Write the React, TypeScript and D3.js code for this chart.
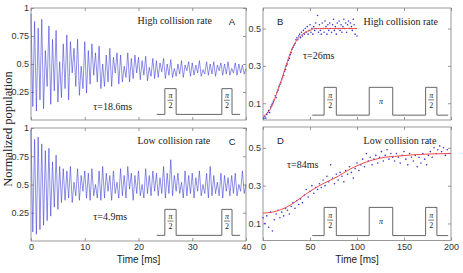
import React from "react"
import * as d3 from "d3"

const W = 463
const H = 273

// Ramsey traces, one sample every 1/3 ms from 0 to 40 ms
const ramseyTime = d3.range(121).map((i) => i / 3)
const highRamsey = [
  0.95, 0.12, 0.88, 0.08, 0.82, 0.18, 0.9, 0.1, 0.62, 0.3,
  0.84, 0.14, 0.72, 0.26, 0.8, 0.16, 0.52, 0.2, 0.68, 0.28,
  0.76, 0.18, 0.7, 0.42, 0.64, 0.3, 0.72, 0.22, 0.48, 0.28,
  0.7, 0.24, 0.62, 0.32, 0.68, 0.4, 0.6, 0.34, 0.66, 0.28,
  0.5, 0.3, 0.58, 0.34, 0.64, 0.3, 0.56, 0.42, 0.6, 0.32,
  0.58, 0.34, 0.48, 0.38, 0.6, 0.34, 0.55, 0.37, 0.58, 0.42,
  0.56, 0.36, 0.53, 0.4, 0.57, 0.35, 0.47, 0.39, 0.55, 0.37,
  0.53, 0.38, 0.51, 0.43, 0.55, 0.37, 0.5, 0.4, 0.54, 0.38,
  0.46, 0.39, 0.5, 0.41, 0.53, 0.38, 0.49, 0.44, 0.52, 0.39,
  0.51, 0.4, 0.49, 0.42, 0.53, 0.39, 0.45, 0.41, 0.52, 0.4,
  0.5, 0.41, 0.52, 0.39, 0.49, 0.44, 0.51, 0.4, 0.5, 0.41,
  0.52, 0.4, 0.46, 0.42, 0.51, 0.4, 0.5, 0.42, 0.49, 0.41, 0.46,
]
const lowRamsey = [
  0.98, 0.08, 0.9, 0.06, 0.92, 0.1, 0.86, 0.14, 0.8, 0.18,
  0.82, 0.22, 0.7, 0.3, 0.76, 0.28, 0.66, 0.34, 0.64, 0.36,
  0.62, 0.38, 0.66, 0.34, 0.52, 0.4, 0.64, 0.36, 0.58, 0.44,
  0.62, 0.38, 0.6, 0.36, 0.64, 0.4, 0.5, 0.38, 0.62, 0.36,
  0.66, 0.38, 0.6, 0.44, 0.58, 0.36, 0.62, 0.42, 0.52, 0.38,
  0.64, 0.4, 0.58, 0.38, 0.66, 0.46, 0.6, 0.36, 0.58, 0.42,
  0.62, 0.4, 0.5, 0.38, 0.64, 0.42, 0.58, 0.4, 0.62, 0.44,
  0.6, 0.4, 0.56, 0.42, 0.66, 0.38, 0.6, 0.42, 0.72, 0.4,
  0.58, 0.44, 0.6, 0.42, 0.52, 0.38, 0.62, 0.4, 0.58, 0.42,
  0.6, 0.38, 0.56, 0.44, 0.62, 0.4, 0.5, 0.42, 0.6, 0.38,
  0.66, 0.4, 0.58, 0.42, 0.52, 0.4, 0.6, 0.38, 0.58, 0.44,
  0.56, 0.4, 0.58, 0.42, 0.6, 0.4, 0.5, 0.44, 0.62, 0.42, 0.5,
]

// echo measurements (dots) and fits
const echoHighTime = d3.range(1, 101)
const echoHigh = [
  0.02, 0.03, 0.02, 0.04, 0.05, 0.06, 0.05, 0.08, 0.09, 0.1,
  0.11, 0.12, 0.14, 0.13, 0.16, 0.17, 0.19, 0.2, 0.21, 0.23,
  0.24, 0.25, 0.27, 0.28, 0.3, 0.31, 0.33, 0.34, 0.36, 0.37,
  0.39, 0.4, 0.41, 0.42, 0.44, 0.45, 0.44, 0.46, 0.47, 0.45,
  0.48, 0.46, 0.49, 0.47, 0.5, 0.48, 0.51, 0.47, 0.49, 0.52,
  0.48, 0.5, 0.47, 0.51, 0.49, 0.53, 0.5, 0.57, 0.48, 0.52,
  0.49, 0.47, 0.53, 0.5, 0.48, 0.54, 0.51, 0.47, 0.52, 0.49,
  0.53, 0.5, 0.48, 0.52, 0.55, 0.49, 0.51, 0.47, 0.53, 0.5,
  0.54, 0.49, 0.52, 0.48, 0.51, 0.55, 0.5, 0.53, 0.48, 0.52,
  0.54, 0.5, 0.53, 0.51, 0.49, 0.55, 0.52, 0.47, 0.5, 0.46,
]
const fitHighTime = [0, 5, 10, 15, 20, 25, 30, 35, 40, 45, 50, 55, 60, 70, 80, 90, 100]
const fitHigh = [0.03, 0.05, 0.09, 0.16, 0.23, 0.31, 0.38, 0.43, 0.46, 0.48, 0.49, 0.5, 0.5, 0.5, 0.5, 0.5, 0.5]

const echoLowTime = d3.range(0, 200, 2)
const echoLow = [
  0.13, 0.1, 0.14, 0.08, 0.16, 0.06, 0.12, 0.15, 0.17, 0.13,
  0.16, 0.14, 0.18, 0.17, 0.15, 0.19, 0.21, 0.18, 0.22, 0.2,
  0.23, 0.21, 0.25, 0.28, 0.24, 0.27, 0.3, 0.26, 0.29, 0.28,
  0.31, 0.29, 0.33, 0.3, 0.35, 0.32, 0.41, 0.34, 0.31, 0.36,
  0.33, 0.37, 0.35, 0.32, 0.38, 0.36, 0.4, 0.37, 0.34, 0.39,
  0.42, 0.38, 0.41, 0.44, 0.4, 0.47, 0.43, 0.45, 0.41, 0.44,
  0.46, 0.42, 0.45, 0.48, 0.43, 0.46, 0.49, 0.44, 0.47, 0.45,
  0.43, 0.47, 0.45, 0.42, 0.46, 0.48, 0.44, 0.41, 0.47, 0.45,
  0.43, 0.46, 0.4, 0.45, 0.42, 0.47, 0.44, 0.41, 0.46, 0.48,
  0.45, 0.5, 0.47, 0.49, 0.51, 0.48, 0.5, 0.46, 0.49, 0.47,
]
const fitLowTime = [0, 10, 20, 30, 40, 50, 60, 70, 80, 90, 100, 110, 120, 130, 140, 160, 180, 200]
const fitLow = [0.155, 0.16, 0.175, 0.2, 0.235, 0.27, 0.3, 0.325, 0.35, 0.38, 0.405, 0.425, 0.44, 0.45, 0.455, 0.463, 0.468, 0.47]

// axes
const ramseyXTicks = [0, 10, 20, 30, 40]
const ramseyYTicks = [0.25, 0.5, 0.75, 1]
const echoXTicks = [0, 50, 100, 150, 200]
const echoYTicks = [0.1, 0.3, 0.5]

// pulse sequences sketched in each panel (ms)
const ramseyPulses = [
  { from: 24.9, to: 27, label: "π/2" },
  { from: 35.5, to: 37.4, label: "π/2" },
]
const echoPulses = [
  { from: 65, to: 78, label: "π/2" },
  { from: 113, to: 138, label: "π" },
  { from: 173, to: 185, label: "π/2" },
]

const serif = "'Liberation Serif', 'Times New Roman', serif"
const sans = "'Liberation Sans', Arial, sans-serif"
const gray = "#808080"
const blue = "#3434d4"
const red = "#ee4a4a"
const ink = "#222"

type Lin = d3.ScaleLinear<number, number>
type G = d3.Selection<SVGGElement, unknown, null, undefined>

function drawFrame(g: G, x: Lin, y: Lin, xTicks: number[], yTicks: number[], xLabels: boolean) {
  const [x0, x1] = x.range()
  const [y0, y1] = y.range()
  g.append("rect")
    .attr("x", x0).attr("y", y1)
    .attr("width", x1 - x0).attr("height", y0 - y1)
    .attr("fill", "white").attr("stroke", gray).attr("stroke-width", 0.8)

  const none = () => ""
  g.append("g").attr("transform", `translate(0,${y0})`)
    .call(d3.axisBottom(x).tickValues(xTicks).tickSize(-3).tickPadding(3)
      .tickFormat(xLabels ? d3.format("") : none))
  g.append("g").attr("transform", `translate(0,${y1})`)
    .call(d3.axisTop(x).tickValues(xTicks).tickSize(-3).tickFormat(none))
  g.append("g").attr("transform", `translate(${x0},0)`)
    .call(d3.axisLeft(y).tickValues(yTicks).tickSize(-3).tickPadding(2).tickFormat(d3.format("")))
  g.append("g").attr("transform", `translate(${x1},0)`)
    .call(d3.axisRight(y).tickValues(yTicks).tickSize(-3).tickFormat(none))

  g.selectAll(".domain").remove()
  g.selectAll(".tick line").attr("stroke", gray).attr("stroke-width", 0.8)
  g.selectAll(".tick text").attr("fill", "#333").attr("font-family", sans).attr("font-size", 9)
}

function drawPulses(g: G, x: Lin, y: Lin, pulses: { from: number; to: number; label: string }[], span: number[], levels: number[]) {
  const pts: [number, number][] = [[span[0], levels[0]]]
  pulses.forEach((p) => {
    pts.push([p.from, levels[0]], [p.from, levels[1]], [p.to, levels[1]], [p.to, levels[0]])
  })
  pts.push([span[1], levels[0]])
  g.append("path")
    .attr("d", d3.line<[number, number]>().x((d) => x(d[0])).y((d) => y(d[1]))(pts))
    .attr("fill", "none").attr("stroke", "#555").attr("stroke-width", 0.9)

  const top = y(levels[1])
  const bot = y(levels[0])
  pulses.forEach((p) => {
    const cx = (x(p.from) + x(p.to)) / 2
    const t = g.append("g").attr("font-family", serif).attr("font-size", 8).attr("fill", ink).attr("text-anchor", "middle")
    if (p.label === "π") {
      t.append("text").attr("x", cx).attr("y", (top + bot) / 2 + 3).attr("font-style", "italic").text("π")
    } else {
      const mid = top + (bot - top) * 0.45
      t.append("text").attr("x", cx).attr("y", mid - 2).attr("font-style", "italic").text("π")
      g.append("line").attr("x1", cx - 3).attr("x2", cx + 3).attr("y1", mid).attr("y2", mid)
        .attr("stroke", ink).attr("stroke-width", 0.6)
      t.append("text").attr("x", cx).attr("y", mid + 8).text("2")
    }
  })
}

function note(g: G, px: number, py: number, s: string, family: string, size: number) {
  g.append("text").attr("x", px).attr("y", py)
    .attr("font-family", family).attr("font-size", size).attr("fill", ink).text(s)
}

export default function App() {
  const ref = React.useRef<SVGSVGElement>(null)

  React.useEffect(() => {
    const svg = d3.select(ref.current)
    svg.selectAll("*").remove()
    const root = svg.append("g") as unknown as G

    const xA = d3.scaleLinear().domain([0, 40]).range([31, 246])
    const yA = d3.scaleLinear().domain([0, 1]).range([120, 8])
    const yC = d3.scaleLinear().domain([0, 1]).range([241, 128])
    const xB = d3.scaleLinear().domain([0, 200]).range([263, 451])
    const yB = d3.scaleLinear().domain([0.01, 0.61]).range([120, 8])
    const yD = d3.scaleLinear().domain([0.01, 0.61]).range([240.5, 127])

    // Ramsey panels A and C
    const ramsey = [
      { y: yA, v: highRamsey, title: "High collision rate", tag: "A", tau: "τ=18.6ms", tauV: 0.09, labels: false },
      { y: yC, v: lowRamsey, title: "Low collision rate", tag: "C", tau: "τ=4.9ms", tauV: 0.185, labels: true },
    ]
    ramsey.forEach((p) => {
      const g = root.append("g")
      drawFrame(g, xA, p.y, ramseyXTicks, ramseyYTicks, p.labels)
      const line = d3.line<number>().x((_, i) => xA(ramseyTime[i])).y((d) => p.y(d))
      g.append("path").attr("d", line(p.v)).attr("fill", "none")
        .attr("stroke", blue).attr("stroke-width", 0.55).attr("stroke-linejoin", "round")
      note(g, xA(19.8), p.y(0.86), p.title, serif, 10)
      note(g, xA(36.8), p.y(0.85), p.tag, sans, 9.5)
      note(g, xA(11.6), p.y(p.tauV), p.tau, serif, 10)
      drawPulses(g, xA, p.y, ramseyPulses, [23.4, 38.9], [0.05, 0.28])
    })

    // echo panels B and D
    const echo = [
      { y: yB, t: echoHighTime, v: echoHigh, ft: fitHighTime, fv: fitHigh, title: "High collision rate", tag: "B", tau: "τ=26ms", tauT: 42.6, tauV: 0.337, labels: false },
      { y: yD, t: echoLowTime, v: echoLow, ft: fitLowTime, fv: fitLow, title: "Low collision rate", tag: "D", tau: "τ=84ms", tauT: 25.5, tauV: 0.392, labels: true },
    ]
    echo.forEach((p) => {
      const g = root.append("g")
      drawFrame(g, xB, p.y, echoXTicks, echoYTicks, p.labels)
      drawPulses(g, xB, p.y, echoPulses, [52.4, 197], [0.036, 0.185])
      g.append("g").selectAll("circle").data(p.v).enter().append("circle")
        .attr("cx", (_, i) => xB(p.t[i])).attr("cy", (d) => p.y(d))
        .attr("r", 0.8).attr("fill", blue)
      const fit = d3.line<number>().curve(d3.curveMonotoneX).x((_, i) => xB(p.ft[i])).y((d) => p.y(d))
      g.append("path").attr("d", fit(p.fv)).attr("fill", "none").attr("stroke", red).attr("stroke-width", 1)
      note(g, xB(15), p.y(0.52), p.tag, sans, 9.5)
      note(g, xB(107), p.y(0.52), p.title, serif, 10)
      note(g, xB(p.tauT), p.y(p.tauV), p.tau, serif, 10)
    })

    // axis titles
    root.append("text").attr("transform", "translate(12,129) rotate(-90)")
      .attr("text-anchor", "middle").attr("font-family", serif).attr("font-size", 12.5)
      .attr("fill", ink).text("Normalized population")
    ;[xA, xB].forEach((x) => {
      const [a, b] = x.range()
      root.append("text").attr("x", (a + b) / 2).attr("y", 263)
        .attr("text-anchor", "middle").attr("font-family", sans).attr("font-size", 10)
        .attr("fill", ink).text("Time [ms]")
    })
  }, [])

  return <svg ref={ref} width={W} height={H} style={{ position: "absolute", left: 0, top: 0 }} />
}
